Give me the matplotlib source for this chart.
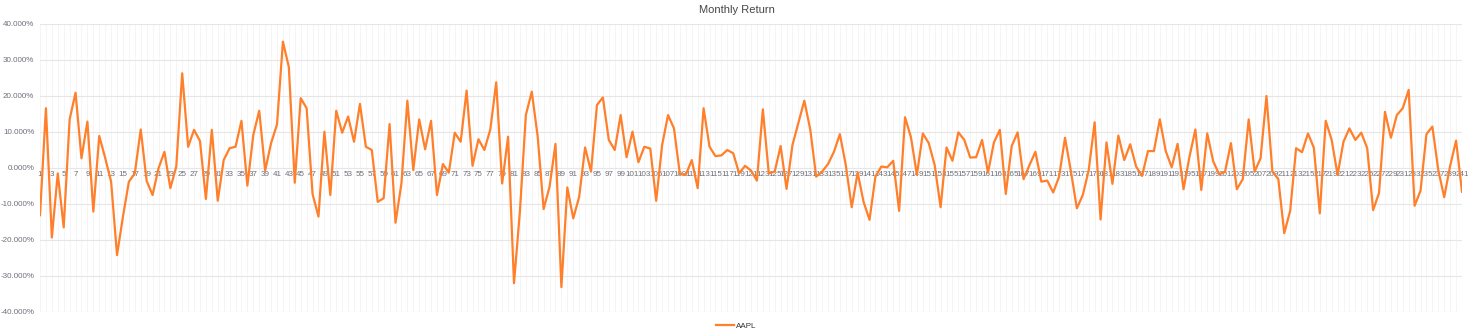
import matplotlib
matplotlib.use('Agg')
import matplotlib.pyplot as plt
from matplotlib.ticker import FuncFormatter

# Monthly return of AAPL, in percent
months = list(range(1, 242))
aapl = [
    -13.1, 16.6, -19.3, -1.5, -16.5, 13.5, 20.9, 2.7, 12.9, -12.1,
    8.9, 2.8, -3.8, -24.2, -13.5, -3.8, -1.5, 10.7, -3.6, -7.5,
    -0.1, 4.5, -5.6, 0.4, 26.3, 5.9, 10.6, 7.5, -8.6, 10.6,
    -9.1, 2.2, 5.5, 5.9, 13.1, -4.9, 9.2, 15.9, -0.7, 6.9,
    12.1, 35.1, 28.0, -4.1, 19.4, 16.6, -7.2, -13.5, 10.1, -7.5,
    15.9, 9.8, 14.3, 7.3, 17.8, 5.9, 5.0, -9.4, -8.4, 12.2,
    -15.2, -4.3, 18.7, -0.6, 13.5, 5.2, 13.1, -7.5, 1.1, -1.3,
    9.8, 7.3, 21.5, 0.6, 8.0, 5.0, 10.7, 23.8, -4.3, 8.7,
    -32.0, -12.0, 14.7, 21.2, 8.7, -11.4, -5.2, 6.7, -33.1, -5.4,
    -14.0, -8.0, 5.7, -1.0, 17.5, 19.6, 7.8, 5.0, 14.7, 3.0,
    10.1, 1.6, 5.9, 5.4, -9.1, 6.4, 14.7, 11.0, -1.7, -1.9,
    2.2, -5.6, 16.6, 5.9, 3.3, 3.5, 5.0, 4.1, -1.5, 0.6,
    -0.7, -3.5, 16.3, -1.5, -1.0, 6.1, -5.8, 6.4, 12.6, 18.7,
    10.7, -2.4, -1.0, 1.1, 4.5, 9.4, 0.8, -10.9, -1.3, -9.4,
    -14.4, -2.4, 0.4, 0.2, 2.0, -11.9, 14.1, 8.5, -1.9, 9.6,
    6.9, 0.8, -10.9, 5.7, 2.0, 9.9, 7.8, 2.9, 3.0, 7.8,
    -1.3, 7.1, 10.6, -7.2, 6.1, 9.9, -3.1, 0.8, 4.5, -3.8,
    -3.5, -6.8, -2.4, 8.4, -1.0, -11.2, -7.5, -0.6, 12.7, -14.3,
    7.1, -4.4, 9.0, 2.2, 6.6, 0.4, -2.2, 4.7, 4.7, 13.5,
    4.7, 0.2, 6.7, -5.9, 3.1, 10.7, -6.1, 9.6, 1.9, -1.7,
    -1.1, 6.9, -5.9, -3.1, 13.5, -1.0, 2.7, 20.0, -1.0, -3.1,
    -18.1, -11.9, 5.5, 4.4, 9.6, 5.6, -12.6, 13.1, 7.8, -1.9,
    7.3, 11.0, 7.8, 9.8, 5.5, -11.7, -6.9, 15.6, 8.4, 14.7,
    16.6, 21.7, -10.5, -6.3, 9.4, 11.5, -0.6, -8.1, 0.6, 7.6,
    -6.6,
]
y_ticks = [-40, -30, -20, -10, 0, 10, 20, 30, 40]

plt.rcParams['font.family'] = ['Liberation Sans', 'DejaVu Sans']

fig = plt.figure(figsize=(14.73, 3.36), dpi=100)
ax = fig.add_axes([40 / 1473, 24 / 336, 1422 / 1473, 288 / 336])

# faint vertical split lines, one per category
for m in months:
    ax.axvline(m, color='#f4f4f4', linewidth=0.6, zorder=0)
ax.set_yticks(y_ticks)
ax.grid(axis='y', color='#e6e6e6', linewidth=0.8)
ax.set_axisbelow(True)

ax.plot(months, aapl, color='#ff7f2a', linewidth=1.6, label='AAPL', zorder=3)

ax.set_xlim(months[0], months[-1])
ax.set_ylim(-40, 40)
ax.yaxis.set_major_formatter(FuncFormatter(lambda v, _: f'{v:.3f}%'))

# category labels sit on the zero line
ax.set_xticks(months[::2])
ax.set_xticklabels([str(m) for m in months[::2]])
ax.spines['bottom'].set_position(('data', 0))
for s in ['top', 'right', 'left', 'bottom']:
    ax.spines[s].set_visible(False)
ax.tick_params(axis='x', length=0, pad=2, labelsize=5.8, colors='#6e7079')
ax.tick_params(axis='y', length=0, pad=4, labelsize=5.8, colors='#6e7079')

fig.text(0.5, 1 - 10 / 336, 'Monthly Return', ha='center', va='center',
         fontsize=8, color='#464646')
fig.legend(loc='center', bbox_to_anchor=(0.5, 1 - 326 / 336), frameon=False,
           fontsize=5.8, handlelength=2.2, handletextpad=0.3,
           labelcolor='#333333')

fig.savefig('out.png', dpi=100)
